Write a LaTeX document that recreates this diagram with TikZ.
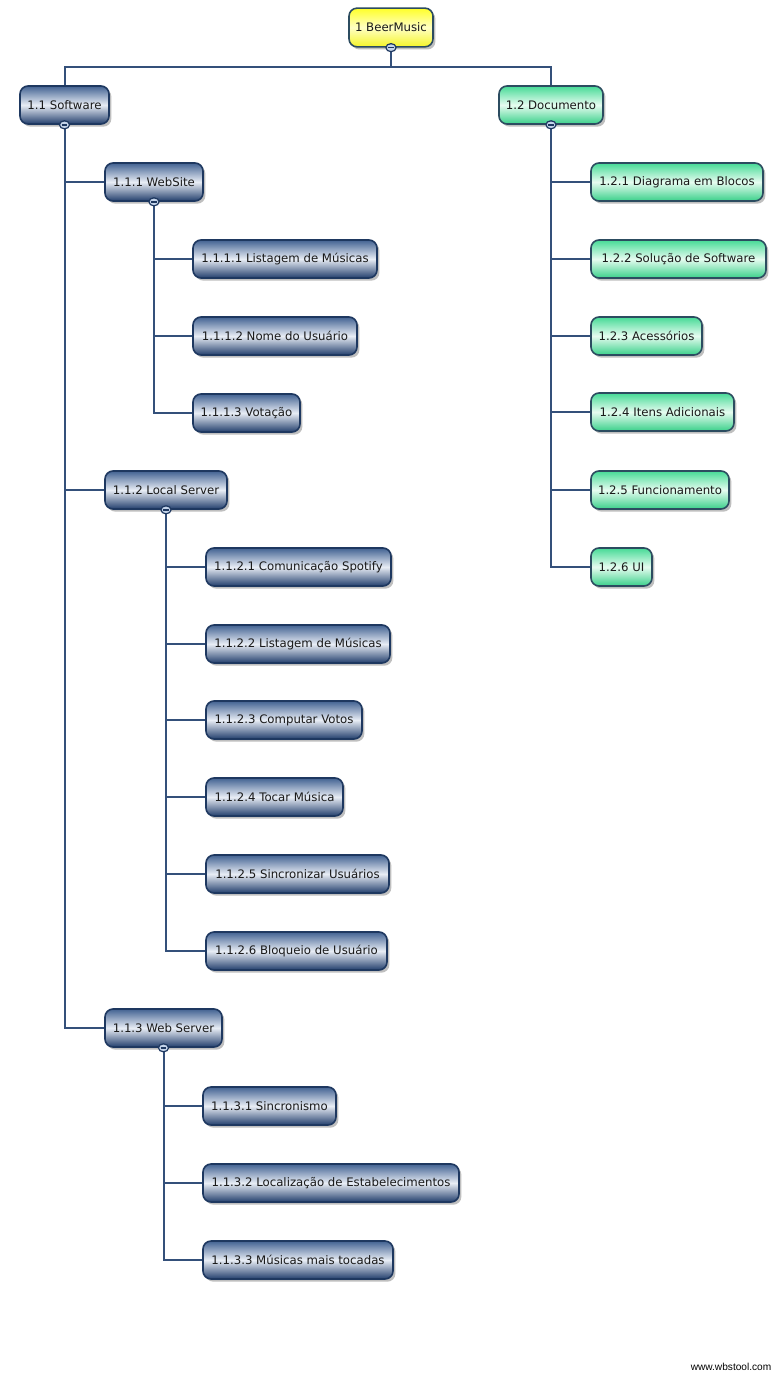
\documentclass[tikz,border=0pt]{standalone}
\usepackage{fontspec}
\setmainfont{DejaVu Sans}
\newfontfamily\markfont{Liberation Sans}
\usetikzlibrary{shadows,backgrounds}

\definecolor{linkc}{RGB}{52,80,122}
\definecolor{blueedge}{RGB}{30,56,96}
\definecolor{bluetop}{RGB}{66,98,146}
\definecolor{bluemid}{RGB}{232,237,245}
\definecolor{bluebot}{RGB}{34,62,108}
\definecolor{greenedge}{RGB}{44,76,96}
\definecolor{greentop}{RGB}{70,218,150}
\definecolor{greenmid}{RGB}{230,252,240}
\definecolor{greenbot}{RGB}{58,208,138}
\definecolor{yellowtop}{RGB}{255,255,40}
\definecolor{yellowmid}{RGB}{255,255,196}
\definecolor{yellowbot}{RGB}{245,245,40}
\definecolor{knobfill}{RGB}{196,212,234}

\tikzset{
  box/.style={rounded corners=6pt, line width=1.2pt, minimum height=28.5pt,
    inner sep=0pt, font=\fontsize{8.8}{10}\selectfont, text=black!90,
    drop shadow={shadow xshift=1.8pt, shadow yshift=-2pt, opacity=0.25, fill=black}},
  bluebox/.style={box, draw=blueedge, top color=bluetop, bottom color=bluebot, middle color=bluemid},
  greenbox/.style={box, draw=greenedge, top color=greentop, bottom color=greenbot, middle color=greenmid},
  rootbox/.style={box, draw=greenedge, top color=yellowtop, bottom color=yellowbot, middle color=yellowmid},
  link/.style={draw=linkc, line width=1.5pt},
  knob/.style={draw=blueedge, fill=knobfill, line width=0.9pt}
}

% collapse marker drawn on a parent's lower edge
\newcommand{\knobat}[1]{%
  \path[knob] (#1) ellipse [x radius=3.8pt, y radius=3pt];
  \draw[blueedge, line width=1.1pt] ([xshift=-2.1pt]#1) -- ([xshift=2.1pt]#1);}

\begin{document}
\begin{tikzpicture}[x=0.75pt, y=-0.75pt]
\useasboundingbox (0,0) rectangle (781,1376);

% root
\node[rootbox, minimum width=63pt, minimum height=29pt] (root) at (391,27.5) {1 BeerMusic};

% level 1
\node[bluebox, minimum width=66.75pt] (s11) at (64.5,105) {1.1 Software};
\node[greenbox, minimum width=78pt] (s12) at (551,105) {1.2 Documento};

% 1.1 subtree
\node[bluebox, minimum width=73.5pt] (s111) at (154,182) {1.1.1 WebSite};
\node[bluebox, minimum width=138pt] (s1111) at (285,259) {1.1.1.1 Listagem de Músicas};
\node[bluebox, minimum width=123pt] (s1112) at (275,336) {1.1.1.2 Nome do Usuário};
\node[bluebox, minimum width=80.25pt] (s1113) at (246.5,413) {1.1.1.3 Votação};

\node[bluebox, minimum width=91.5pt] (s112) at (166,490) {1.1.2 Local Server};
\node[bluebox, minimum width=138.75pt] (s1121) at (298.5,567) {1.1.2.1 Comunicação Spotify};
\node[bluebox, minimum width=138pt] (s1122) at (298,644) {1.1.2.2 Listagem de Músicas};
\node[bluebox, minimum width=117pt] (s1123) at (284,720) {1.1.2.3 Computar Votos};
\node[bluebox, minimum width=102.75pt] (s1124) at (274.5,797) {1.1.2.4 Tocar Música};
\node[bluebox, minimum width=137.25pt] (s1125) at (297.5,874) {1.1.2.5 Sincronizar Usuários};
\node[bluebox, minimum width=135.75pt] (s1126) at (296.5,951) {1.1.2.6 Bloqueio de Usuário};

\node[bluebox, minimum width=87.75pt] (s113) at (163.5,1028) {1.1.3 Web Server};
\node[bluebox, minimum width=99.75pt] (s1131) at (269.5,1106) {1.1.3.1 Sincronismo};
\node[bluebox, minimum width=192pt] (s1132) at (331,1183) {1.1.3.2 Localização de Estabelecimentos};
\node[bluebox, minimum width=142.5pt] (s1133) at (298,1260) {1.1.3.3 Músicas mais tocadas};

% 1.2 subtree
\node[greenbox, minimum width=129pt] (s121) at (677,182) {1.2.1 Diagrama em Blocos};
\node[greenbox, minimum width=131.25pt] (s122) at (678.5,259) {1.2.2 Solução de Software};
\node[greenbox, minimum width=83.25pt] (s123) at (646.5,336) {1.2.3 Acessórios};
\node[greenbox, minimum width=107.25pt] (s124) at (662.5,412) {1.2.4 Itens Adicionais};
\node[greenbox, minimum width=103.5pt] (s125) at (660,490) {1.2.5 Funcionamento};
\node[greenbox, minimum width=45.75pt] (s126) at (621.5,567) {1.2.6 UI};

% connectors, kept behind the boxes
\coordinate (bar) at (391,67);
\begin{pgfonlayer}{background}
\fill[white] (0,0) rectangle (781,1376);
\path[link] (root.south) -- (bar);
\path[link] (s11.north) |- (bar) -| (s12.north);
\foreach \c in {s111,s112,s113} \path[link] (s11.south) |- (\c.west);
\foreach \c in {s1111,s1112,s1113} \path[link] (s111.south) |- (\c.west);
\foreach \c in {s1121,s1122,s1123,s1124,s1125,s1126} \path[link] (s112.south) |- (\c.west);
\foreach \c in {s1131,s1132,s1133} \path[link] (s113.south) |- (\c.west);
\foreach \c in {s121,s122,s123,s124,s125,s126} \path[link] (s12.south) |- (\c.west);
\end{pgfonlayer}

% collapse knobs
\foreach \p in {root,s11,s12,s111,s112,s113} {\knobat{\p.south}}

% footer
\node[font=\markfont\fontsize{7.6}{9}\selectfont, anchor=east] (mark) at (776,1367) {www.wbstool.com};
\end{tikzpicture}
\end{document}
